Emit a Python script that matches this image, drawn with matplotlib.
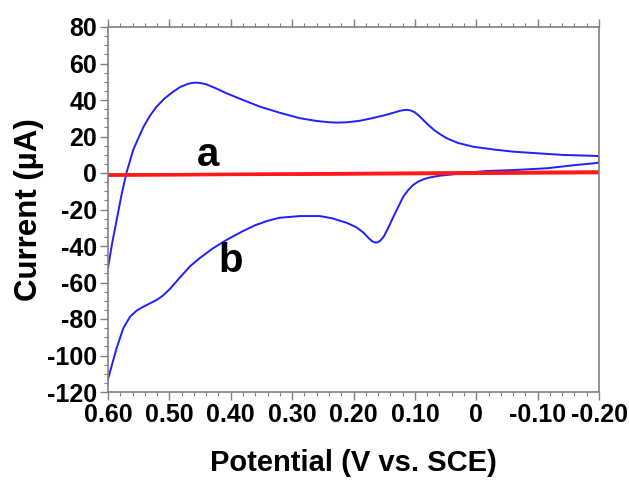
import matplotlib
matplotlib.use("Agg")
import matplotlib.pyplot as plt
from matplotlib.ticker import MultipleLocator

plt.rcParams['font.family'] = ['Liberation Sans', 'DejaVu Sans']
plt.rcParams['font.weight'] = 'bold'
plt.rcParams['axes.unicode_minus'] = False

# Curve b (blue): upper branch, scanned from 0.60 V towards -0.20 V
upper_v = [0.600, 0.593, 0.586, 0.578, 0.570, 0.559, 0.550, 0.542, 0.532, 0.521,
           0.508, 0.494, 0.482, 0.470, 0.462, 0.455, 0.448, 0.440, 0.425, 0.407,
           0.380, 0.352, 0.320, 0.287, 0.260, 0.240, 0.227, 0.210, 0.190, 0.170,
           0.150, 0.135, 0.125, 0.118, 0.112, 0.106, 0.100, 0.094, 0.088, 0.082,
           0.075, 0.068, 0.060, 0.048, 0.030, 0.005, -0.030, -0.060, -0.100, -0.141,
           -0.200]
upper_i = [-52, -38, -26, -12, 0, 12.6, 19.5, 25.4, 31.2, 36.3,
           40.8, 44.5, 47.2, 48.8, 49.4, 49.5, 49.2, 48.6, 46.5, 43.7,
           40, 36.3, 33, 30, 28.5, 27.8, 27.6, 27.8, 28.6, 30,
           31.6, 33, 34, 34.5, 34.6, 34.2, 33.2, 31.6, 29.6, 27.6,
           25.4, 23.4, 21.5, 19, 16.5, 14.4, 12.8, 11.7, 10.8, 9.9,
           9.3]

# lower branch, scanned back from -0.20 V to 0.60 V
lower_v = [-0.200, -0.160, -0.115, -0.060, -0.017, 0.010, 0.037, 0.060, 0.075, 0.085,
           0.095, 0.103, 0.111, 0.119, 0.127, 0.135, 0.143, 0.151, 0.157, 0.162,
           0.166, 0.170, 0.175, 0.184, 0.195, 0.211, 0.235, 0.255, 0.287, 0.320,
           0.340, 0.360, 0.380, 0.407, 0.430, 0.450, 0.466, 0.483, 0.499, 0.511,
           0.521, 0.532, 0.542, 0.553, 0.564, 0.575, 0.586, 0.598, 0.600]
lower_i = [5.6, 4.3, 2.6, 1.6, 1.1, 0.3, -0.7, -1.5, -2.4, -3.3,
           -4.8, -6.6, -9.4, -13, -18.5, -24, -29.8, -35, -37.3, -38.1,
           -38, -37.3, -35.8, -32.6, -29.8, -27.3, -24.8, -23.6, -23.6, -24.5,
           -26.2, -28.6, -31.8, -36.7, -41.5, -46.5, -51, -57.3, -63.5, -67.3,
           -69.6, -71.5, -73.2, -75.3, -78.7, -85, -96, -110.5, -113]

# Curve a (red): nearly flat background
red_fwd_v = [0.60, 0.30, 0.00, -0.20]
red_fwd_i = [-1.2, -0.5, 0.2, 0.6]
red_rev_v = [-0.20, 0.00, 0.30, 0.60]
red_rev_i = [0.2, -0.2, -0.7, -1.0]

xtick_vals = [0.60, 0.50, 0.40, 0.30, 0.20, 0.10, 0.0, -0.10, -0.20]
xtick_labels = ['0.60', '0.50', '0.40', '0.30', '0.20', '0.10', '0', '-0.10', '-0.20']
ytick_vals = [80, 60, 40, 20, 0, -20, -40, -60, -80, -100, -120]

fig = plt.figure(figsize=(6.29, 4.8), dpi=100)
ax = fig.add_axes([108 / 629, 1 - 392 / 480, 491 / 629, 365 / 480])

# Plot the two curves
ax.plot(upper_v + lower_v, upper_i + lower_i, color='#1f1fff', linewidth=1.4)
ax.plot(red_fwd_v, red_fwd_i, color='#ff1a1a', linewidth=2.4)
ax.plot(red_rev_v, red_rev_i, color='#ff1a1a', linewidth=2.4)

# Curve labels
ax.text(0.437, 10, 'a', fontsize=29, fontweight='bold', ha='center', va='center')
ax.text(0.40, -48, 'b', fontsize=29, fontweight='bold', ha='center', va='center')

# Axis ranges, potential axis runs from positive to negative
ax.set_xlim(0.60, -0.20)
ax.set_ylim(-120, 80)

ax.set_xticks(xtick_vals)
ax.set_xticklabels(xtick_labels)
ax.set_yticks(ytick_vals)
ax.xaxis.set_minor_locator(MultipleLocator(0.02))
ax.yaxis.set_minor_locator(MultipleLocator(5))

for side in ['left', 'bottom', 'top', 'right']:
    ax.spines[side].set_color('#808080')
    ax.spines[side].set_linewidth(1.2)

ax.tick_params(which='both', direction='out', color='#808080')
ax.tick_params(which='major', length=6, width=1.0, labelsize=18, pad=2)
ax.tick_params(which='minor', length=3, width=0.8)
ax.tick_params(axis='x', which='both', top=True, labeltop=False)

ax.set_xlabel('Potential (V vs. SCE)', fontsize=21, fontweight='bold', labelpad=16)
ax.set_ylabel('Current (\u00b5A)', fontsize=22.5, fontweight='bold', labelpad=2)

fig.savefig('out.png', dpi=100)
